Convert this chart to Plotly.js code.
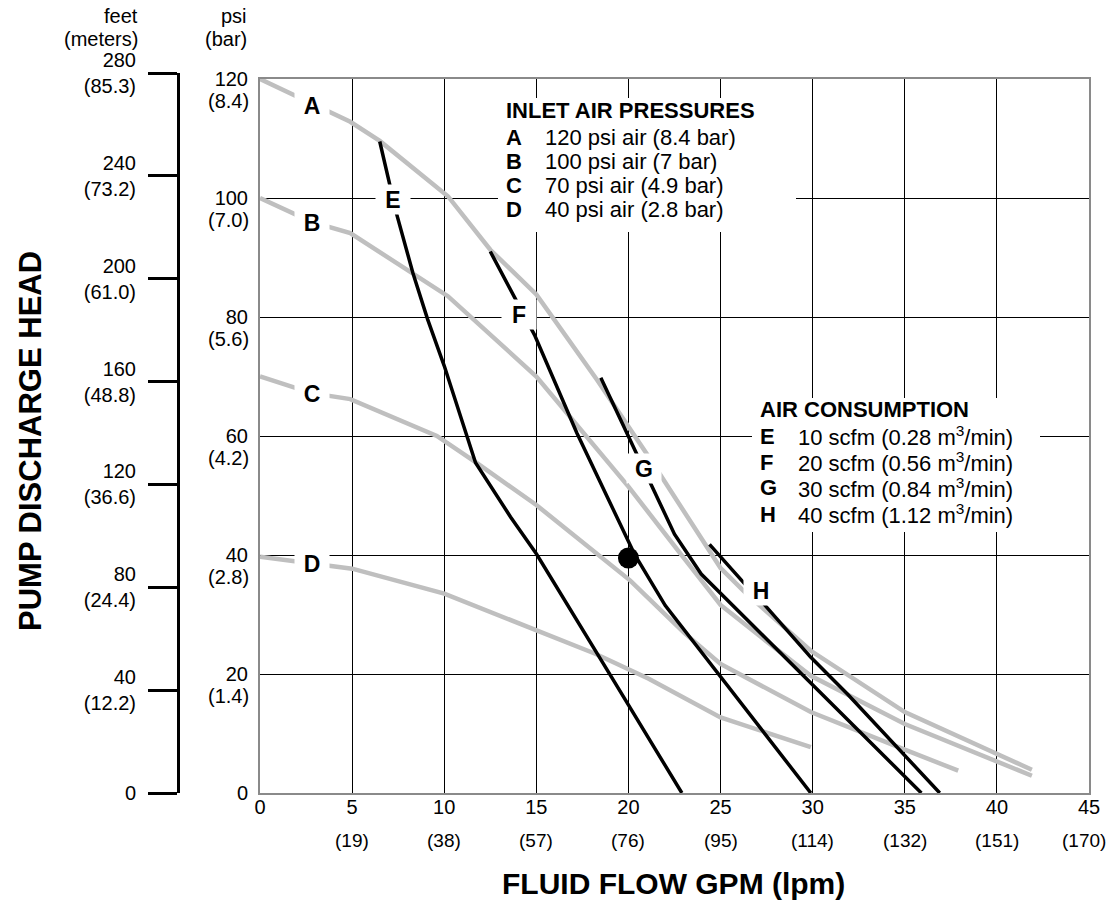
<!DOCTYPE html>
<html>
<head>
<meta charset="utf-8">
<script src="https://cdn.plot.ly/plotly-3.0.1.min.js"></script>
<style>html,body{margin:0;padding:0;background:#fff;}</style>
</head>
<body>
<div id="chart" style="width:1110px;height:902px;"></div>
<script>
// ---------- DATA ----------
// Inlet air pressure curves (gray): flow GPM vs head psi
const curveA_x = [0, 2.8, 4.9, 6.5, 10.2, 12.5, 15, 18.3, 21.1, 25, 26.4, 29.9, 35, 41.9];
const curveA_y = [120, 115.8, 112.8, 109.6, 100.3, 91.3, 83.8, 69.4, 56.5, 37.8, 33.5, 23.9, 13.6, 3.9];
const curveB_x = [0, 2.8, 4.9, 10.2, 15, 17.6, 20, 22.8, 25, 27.2, 29.9, 35, 41.9];
const curveB_y = [100, 96, 94.1, 83.5, 70, 60.5, 51.5, 40.3, 31.6, 26.2, 19.7, 11.6, 2.9];
const curveC_x = [0, 2.8, 4.9, 9.6, 11.8, 15, 20.1, 23, 25, 29.9, 35, 37.9];
const curveC_y = [70, 67.2, 66.2, 60, 55.4, 48.4, 35.7, 27, 21.7, 13.6, 7.3, 3.75];
const curveD_x = [0, 2.8, 5, 10, 15, 18.2, 21.1, 25, 29.9];
const curveD_y = [39.7, 38.6, 37.7, 33.5, 27.3, 23.4, 19.2, 12.7, 7.7];
// Air consumption curves (black)
const curveE_x = [6.5, 7.4, 8.3, 9.1, 10, 11.7, 13.6, 15, 19.1, 22.9];
const curveE_y = [109.5, 97.5, 87.4, 79.6, 71.8, 55.5, 46.4, 40.2, 19.4, 0];
const curveF_x = [12.5, 14.9, 17.2, 18.5, 20.35, 22, 23.9, 29.9];
const curveF_y = [91, 77, 60.5, 52, 40, 31.5, 23.9, 0];
const curveG_x = [18.5, 20, 21.1, 22.5, 23.95, 29.4, 35.9];
const curveG_y = [69.8, 60, 52.5, 43.5, 36.8, 20, 0];
const curveH_x = [24.4, 26.3, 27.2, 29.9, 31.9, 36.9];
const curveH_y = [41.8, 35.2, 32.3, 22.8, 16.6, 0];
// Reference point
const point_x = [20];
const point_y = [39.5];
// Curve labels
const curveLetters = ['A', 'B', 'C', 'D', 'E', 'F', 'G', 'H'];
const curveLabel_x = [2.8, 2.8, 2.8, 2.8, 7.2, 14.05, 20.85, 27.2];
const curveLabel_y = [115.6, 95.8, 67.2, 38.6, 99.7, 80.4, 54.5, 34.0];
// Axis ticks
const gpmTicks = [0, 5, 10, 15, 20, 25, 30, 35, 40, 45];
const lpmLabels = ['', '(19)', '(38)', '(57)', '(76)', '(95)', '(114)', '(132)', '(151)', '(170)'];
const psiTicks = [0, 20, 40, 60, 80, 100, 120];
const barLabels = ['', '(1.4)', '(2.8)', '(4.2)', '(5.6)', '(7.0)', '(8.4)'];
const feetTicks = [0, 40, 80, 120, 160, 200, 240, 280];
const meterLabels = ['', '(12.2)', '(24.4)', '(36.6)', '(48.8)', '(61.0)', '(73.2)', '(85.3)'];
// Legend texts
const pressureTitle = 'INLET AIR PRESSURES';
const pressureKeys = ['A', 'B', 'C', 'D'];
const pressureTexts = ['120 psi air (8.4 bar)', '100 psi air (7 bar)', '70 psi air (4.9 bar)', '40 psi air (2.8 bar)'];
const airTitle = 'AIR CONSUMPTION';
const airKeys = ['E', 'F', 'G', 'H'];
const airTexts = ['10 scfm (0.28 m<sup>3</sup>/min)', '20 scfm (0.56 m<sup>3</sup>/min)', '30 scfm (0.84 m<sup>3</sup>/min)', '40 scfm (1.12 m<sup>3</sup>/min)'];
const xTitle = 'FLUID FLOW GPM (lpm)';
const yTitle = 'PUMP DISCHARGE HEAD';

// ---------- LAYOUT HELPERS ----------
const W = 1110, H = 902;
const ML = 100, MR = 21, MT = 73, MB = 109;
const PW = W - ML - MR;       // paper width in px
const PH = H - MT - MB;       // paper height in px
const px2x = px => (px - ML) / PW;
const py2y = py => (H - MB - py) / PH;

const FONT = 'Arial, "Liberation Sans", Helvetica, sans-serif';
const GRAY = '#bfbfbf';
const TS = 20; // tick font size

const traces = [];
const grayCurves = [[curveA_x, curveA_y], [curveB_x, curveB_y], [curveC_x, curveC_y], [curveD_x, curveD_y]];
grayCurves.forEach(c => traces.push({
  x: c[0], y: c[1], type: 'scatter', mode: 'lines',
  line: {color: GRAY, width: 4.5}, hoverinfo: 'skip'
}));
const blackCurves = [[curveE_x, curveE_y], [curveF_x, curveF_y], [curveG_x, curveG_y], [curveH_x, curveH_y]];
blackCurves.forEach(c => traces.push({
  x: c[0], y: c[1], type: 'scatter', mode: 'lines',
  line: {color: '#000', width: 3.5}, hoverinfo: 'skip'
}));
traces.push({
  x: point_x, y: point_y, type: 'scatter', mode: 'markers',
  marker: {color: '#000', size: 21}, hoverinfo: 'skip'
});
// invisible anchor trace for the feet axis
traces.push({x: [0], y: [0], xaxis: 'x2', yaxis: 'y2', type: 'scatter', mode: 'markers',
  marker: {opacity: 0}, hoverinfo: 'skip'});

const annotations = [];
// curve letters
curveLetters.forEach((t, i) => annotations.push({
  x: curveLabel_x[i], y: curveLabel_y[i], xref: 'x', yref: 'y', xanchor: 'center', yanchor: 'middle',
  text: '<b>' + t + '</b>', showarrow: false, bgcolor: '#fff',
  width: 32, height: 27, font: {size: 23, color: '#000', family: FONT}
}));
// bar labels on psi axis
psiTicks.forEach((v, i) => {
  if (!barLabels[i]) return;
  annotations.push({x: px2x(251), xref: 'paper', xanchor: 'right', y: v, yref: 'y', yanchor: 'middle', yshift: -22,
    text: barLabels[i], showarrow: false, font: {size: TS, family: FONT, color: '#000'}});
});
// lpm labels
gpmTicks.forEach((v, i) => {
  if (!lpmLabels[i]) return;
  const last = i === gpmTicks.length - 1;
  annotations.push({x: v, xref: 'x', xanchor: 'center', y: 0, yref: 'paper', yanchor: 'middle', yshift: -47,
    xshift: last ? -5 : 0,
    text: lpmLabels[i], showarrow: false, font: {size: 19, family: FONT, color: '#000'}});
});
// headers
const headers = [['feet', 140, 16], ['(meters)', 140, 39], ['psi', 249, 16], ['(bar)', 249, 39]];
headers.forEach(h => annotations.push({x: px2x(h[1]), y: py2y(h[2]), xref: 'paper', yref: 'paper',
  xanchor: 'right', yanchor: 'middle', text: h[0], showarrow: false,
  font: {size: TS, family: FONT, color: '#000'}}));
// axis titles
annotations.push({x: px2x(30), y: py2y(441), xref: 'paper', yref: 'paper', textangle: -90,
  xanchor: 'center', yanchor: 'middle',
  text: '<b>' + yTitle + '</b>', showarrow: false, font: {size: 31, family: FONT, color: '#000'}});
annotations.push({x: px2x(673), y: py2y(883), xref: 'paper', yref: 'paper',
  xanchor: 'center', yanchor: 'middle',
  text: '<b>' + xTitle + '</b>', showarrow: false, font: {size: 30, family: FONT, color: '#000'}});
// legends
function legendBlock(title, keys, texts, left, textLeft, titleY, rowYs) {
  annotations.push({x: px2x(left), y: py2y(titleY), xref: 'paper', yref: 'paper', xanchor: 'left',
    yanchor: 'middle', text: '<b>' + title + '</b>', showarrow: false,
    font: {size: 22, family: FONT, color: '#000'}});
  keys.forEach((k, i) => {
    annotations.push({x: px2x(left), y: py2y(rowYs[i]), xref: 'paper', yref: 'paper', xanchor: 'left',
      yanchor: 'middle', text: '<b>' + k + '</b>', showarrow: false,
      font: {size: 22, family: FONT, color: '#000'}});
    annotations.push({x: px2x(textLeft), y: py2y(rowYs[i]), xref: 'paper', yref: 'paper', xanchor: 'left',
      yanchor: 'middle', text: texts[i], showarrow: false,
      font: {size: 22, family: FONT, color: '#000'}});
  });
}
legendBlock(pressureTitle, pressureKeys, pressureTexts, 504, 543, 110, [137.5, 161.5, 185.5, 209.5]);
legendBlock(airTitle, airKeys, airTexts, 758, 796, 409, [436, 462, 488, 514]);

const shapes = [
  {type: 'rect', xref: 'paper', yref: 'paper', x0: px2x(498), x1: px2x(796), y0: py2y(232), y1: py2y(98),
   fillcolor: '#fff', line: {width: 0}, layer: 'above'},
  {type: 'rect', xref: 'paper', yref: 'paper', x0: px2x(752), x1: px2x(1040), y0: py2y(532), y1: py2y(398),
   fillcolor: '#fff', line: {width: 0}, layer: 'above'}
];

const layout = {
  width: W, height: H,
  margin: {l: ML, r: MR, t: MT, b: MB, pad: 0},
  paper_bgcolor: '#fff', plot_bgcolor: 'rgba(0,0,0,0)',
  font: {family: FONT, size: TS, color: '#000'},
  showlegend: false,
  xaxis: {
    domain: [px2x(260), 1], range: [0, 45], tickvals: gpmTicks, ticktext: gpmTicks.map(String),
    showgrid: true, gridcolor: '#000', gridwidth: 1, zeroline: false,
    showline: true, linecolor: '#8a8a8a', linewidth: 2, mirror: true, ticks: '',
    fixedrange: true, ticklabelstandoff: -5, tickfont: {size: TS}
  },
  yaxis: {
    domain: [0, py2y(79)], range: [0, 120], tickvals: psiTicks, ticktext: psiTicks.map(String),
    showgrid: true, gridcolor: '#000', gridwidth: 1, zeroline: false,
    showline: true, linecolor: '#8a8a8a', linewidth: 2, mirror: true, ticks: '',
    fixedrange: true, ticklabelstandoff: 6, tickfont: {size: TS}
  },
  xaxis2: {domain: [px2x(180), px2x(200)], range: [0, 1], visible: false, anchor: 'y2', fixedrange: true},
  yaxis2: {
    domain: [0, 1], range: [0, 280], anchor: 'x2', side: 'left',
    tickvals: feetTicks, ticktext: feetTicks.map((v, i) => meterLabels[i] ? v + '<br>' + meterLabels[i] : String(v)),
    showgrid: false, zeroline: false, showline: true, linecolor: '#000', linewidth: 3,
    ticks: 'outside', ticklen: 29, tickwidth: 3, tickcolor: '#000', ticklabelstandoff: 8,
    fixedrange: true, tickfont: {size: TS}
  },
  annotations: annotations,
  shapes: shapes
};

Plotly.newPlot('chart', traces, layout, {displayModeBar: false, staticPlot: true});
</script>
</body>
</html>
